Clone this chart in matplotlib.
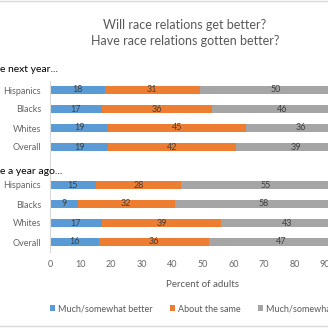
import matplotlib
matplotlib.use("Agg")
import matplotlib.pyplot as plt
from matplotlib.patches import Patch
from matplotlib.lines import Line2D
import numpy as np

plt.rcParams['font.family'] = ['Lato', 'DejaVu Sans']

groups = ["Hispanics", "Blacks", "Whites", "Overall"]
section_titles = ["e next year...", "e a year ago..."]
series_names = ["Much/somewhat better", "About the same", "Much/somewhat worse"]
colors = ["#5B9BD5", "#ED7D31", "#A5A5A5"]

next_better = [18, 17, 19, 19]
next_same = [31, 36, 45, 42]
next_worse = [50, 46, 36, 39]

ago_better = [15, 9, 17, 16]
ago_same = [28, 32, 39, 36]
ago_worse = [55, 58, 43, 47]

W, H = 328, 328
fig = plt.figure(figsize=(W / 100, H / 100), dpi=100)
fig.patch.set_facecolor("white")

ax_left = 50 / W
ax_width = 100 * 3.056 / W
ax_top = 80.5
ax_bot = 251.5
ax = fig.add_axes([ax_left, 1 - ax_bot / H, ax_width, (ax_bot - ax_top) / H])

n = len(groups)
pos_next = np.arange(1, n + 1)
pos_ago = np.arange(n + 2, 2 * n + 2)

sections = [
    (pos_next, [next_better, next_same, next_worse]),
    (pos_ago, [ago_better, ago_same, ago_worse]),
]
bar_h = 0.42
for pos, vals in sections:
    left = np.zeros(n)
    for v, c in zip(vals, colors):
        v = np.array(v, dtype=float)
        ax.barh(pos, v, left=left, height=bar_h, color=c, edgecolor="none")
        for y, l, w in zip(pos, left, v):
            ax.text(l + w / 2, y, f"{int(w)}", ha="center", va="center",
                    fontsize=6.5, color="#404040")
        left += v

ax.set_xlim(0, 100)
ax.set_ylim(2 * n + 1.5, 0.5)
ax.set_yticks(list(pos_next) + list(pos_ago))
ax.set_yticklabels(groups + groups)
ax.set_xticks(np.arange(0, 101, 10))
ax.tick_params(axis="both", length=0, colors="#666666", labelsize=6.5)
ax.tick_params(axis="y", pad=6.5)
ax.tick_params(axis="x", pad=6)
for s in ["top", "right", "bottom"]:
    ax.spines[s].set_visible(False)
ax.spines["left"].set_color("#D9D9D9")
ax.spines["left"].set_linewidth(0.8)
ax.set_xlabel("Percent of adults", fontsize=7, color="#595959", labelpad=8)

fig.text(185 / W, 1 - 25 / H, "Will race relations get better?", ha="center",
         va="center", fontsize=9, color="#595959")
fig.text(185 / W, 1 - 41 / H, "Have race relations gotten better?", ha="center",
         va="center", fontsize=9, color="#595959")

fig.text(0, 1 - 69 / H, section_titles[0], ha="left", va="center",
         fontsize=7.5, color="#000000")
fig.text(0, 1 - 171 / H, section_titles[1], ha="left", va="center",
         fontsize=7.5, color="#000000")

handles = [Patch(facecolor=c, edgecolor="none") for c in colors]
fig.legend(handles, series_names, loc="center left",
           bbox_to_anchor=(50 / W, 1 - 309 / H), ncol=3, frameon=False,
           fontsize=6.5, labelcolor="#595959", handlelength=0.6,
           handleheight=0.6, handletextpad=0.3, columnspacing=1.9,
           borderpad=0, borderaxespad=0)

fig.add_artist(Line2D([0, 1], [1 - 0.5 / H, 1 - 0.5 / H], color="#D9D9D9", lw=1))
fig.add_artist(Line2D([0, 1], [1 - 326 / H, 1 - 326 / H], color="#D9D9D9", lw=1))

fig.savefig("out.png", dpi=100, facecolor="white")
